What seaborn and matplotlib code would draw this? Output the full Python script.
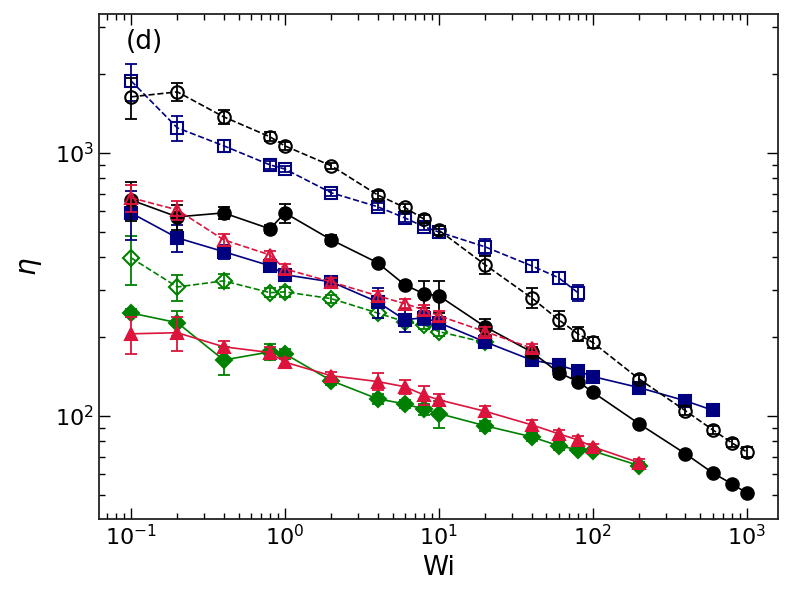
import numpy as np
import matplotlib
matplotlib.use("Agg")
import matplotlib.pyplot as plt
import matplotlib.ticker as mticker
import seaborn as sns

# Wi values
wi_full = [0.1, 0.2, 0.4, 0.8, 1, 2, 4, 6, 8, 10, 20, 40, 60, 80, 100, 200, 400, 600, 800, 1000]
wi_sq_open = [0.1, 0.2, 0.4, 0.8, 1, 2, 4, 6, 8, 10, 20, 40, 60, 80]
wi_sq_fill = [0.1, 0.2, 0.4, 0.8, 1, 2, 4, 6, 8, 10, 20, 40, 60, 80, 100, 200, 400, 600]
wi_tri_open = [0.1, 0.2, 0.4, 0.8, 1, 2, 4, 6, 8, 10, 20, 40]
wi_dia_open = [0.1, 0.2, 0.4, 0.8, 1, 2, 4, 6, 8, 10, 20]
wi_short = [0.1, 0.2, 0.4, 0.8, 1, 2, 4, 6, 8, 10, 20, 40, 60, 80, 100, 200]

# black open circles (dashed)
eta_circ_open = [1633, 1706, 1371, 1151, 1063, 893, 692, 620, 560, 508, 375, 281, 232, 205, 190,
                 138, 104.5, 88.5, 78.9, 72.9]
err_circ_open = [290, 130, 85, 45, 35, 25, 22, 20, 20, 20, 30, 25, 18, 12, 9, 5, 4, 3, 3, 3]

# navy open squares (dashed)
eta_sq_open = [1880, 1245, 1064, 900, 868, 705, 624, 566, 524, 500, 439, 372, 335, 294]
err_sq_open = [300, 135, 60, 30, 25, 20, 18, 18, 15, 15, 30, 20, 18, 20]

# black filled circles (solid)
eta_circ_fill = [662, 571, 591, 514, 591, 467, 382, 315, 291, 286, 218, 175, 146, 135, 123,
                 93.2, 71.7, 60.7, 55.1, 50.9]
err_circ_fill = [110, 60, 30, 20, 50, 18, 10, 10, 35, 40, 15, 8, 5, 4, 3, 2, 1.5, 1.5, 1, 1]

# navy filled squares (solid)
eta_sq_fill = [591, 475, 421, 372, 344, 323, 271, 232, 236, 226, 191, 163, 156, 148, 141,
               128, 114, 105]
err_sq_fill = [125, 55, 25, 15, 15, 12, 35, 23, 15, 12, 8, 6, 5, 5, 4, 3, 3, 3]

# crimson open triangles (dashed)
eta_tri_open = [675, 607, 467, 409, 362, 323, 286, 267, 253, 240, 209, 181]
err_tri_open = [80, 50, 25, 15, 15, 12, 12, 10, 12, 10, 8, 6]

# green open diamonds (dashed)
eta_dia_open = [399, 309, 326, 294, 296, 279, 246, 228, 222, 209, 190]
err_dia_open = [85, 35, 20, 12, 12, 10, 10, 8, 8, 8, 6]

# green filled diamonds (solid)
eta_dia_fill = [246, 226, 163, 175, 172, 136, 116, 111, 106, 102, 91.6, 83.2, 76.9, 74.3,
                73.5, 64.6]
err_dia_fill = [8, 25, 20, 12, 8, 5, 5, 4, 5, 12, 4, 3, 3, 2, 2, 2]

# crimson filled triangles (solid)
eta_tri_fill = [205, 207, 183, 174, 160, 142, 135, 129, 120, 115, 104, 92.4, 85.4, 81.0,
                76.2, 66.3]
err_tri_fill = [33, 30, 10, 8, 6, 5, 10, 8, 10, 6, 5, 4, 3, 3, 2, 2]

sns.set_style("ticks")
plt.rcParams.update({
    "xtick.direction": "in", "ytick.direction": "in",
    "xtick.top": True, "ytick.right": True,
    "xtick.major.size": 8, "ytick.major.size": 8,
    "xtick.minor.size": 4, "ytick.minor.size": 4,
    "xtick.major.width": 1.0, "ytick.major.width": 1.0,
    "xtick.minor.width": 1.0, "ytick.minor.width": 1.0,
    "xtick.labelsize": 16, "ytick.labelsize": 16,
    "xtick.color": "black", "ytick.color": "black",
    "text.color": "black", "axes.labelcolor": "black",
    "axes.linewidth": 1.3, "axes.edgecolor": "#222222",
    "font.family": ["DejaVu Sans"],
})

fig, ax = plt.subplots(figsize=(7.92, 6.0), dpi=100)
fig.subplots_adjust(left=0.125, right=0.982, bottom=0.135, top=0.977)

series = [
    (wi_short, eta_dia_fill, err_dia_fill, "green", "D", "-", True),
    (wi_short, eta_tri_fill, err_tri_fill, "crimson", "^", "-", True),
    (wi_dia_open, eta_dia_open, err_dia_open, "green", "D", "--", False),
    (wi_sq_fill, eta_sq_fill, err_sq_fill, "navy", "s", "-", True),
    (wi_full, eta_circ_fill, err_circ_fill, "black", "o", "-", True),
    (wi_tri_open, eta_tri_open, err_tri_open, "crimson", "^", "--", False),
    (wi_sq_open, eta_sq_open, err_sq_open, "navy", "s", "--", False),
    (wi_full, eta_circ_open, err_circ_open, "black", "o", "--", False),
]

for x, y, e, c, m, ls, filled in series:
    ax.errorbar(x, y, yerr=e, fmt="none", ecolor=c, elinewidth=1.3, capsize=4, capthick=1.3)
    ms = 8 if m == "D" else 9
    sns.lineplot(
        x=x, y=y, ax=ax, color=c, marker=m, markersize=ms, linestyle=ls, linewidth=1.2,
        markerfacecolor=c if filled else "none", markeredgecolor=c,
        markeredgewidth=1.5, legend=False,
    )

ax.set_xscale("log")
ax.set_yscale("log")
ax.set_xlim(0.062, 1590)
ax.set_ylim(40.5, 3380)
ax.yaxis.set_minor_formatter(mticker.NullFormatter())
ax.xaxis.set_minor_formatter(mticker.NullFormatter())
ax.set_xlabel("Wi", fontsize=19, labelpad=4)
ax.set_ylabel(r"$\eta$", fontsize=20, labelpad=8)
ax.text(0.04, 0.97, "(d)", transform=ax.transAxes, fontsize=19, va="top", ha="left")

fig.savefig("out.png", dpi=100)
